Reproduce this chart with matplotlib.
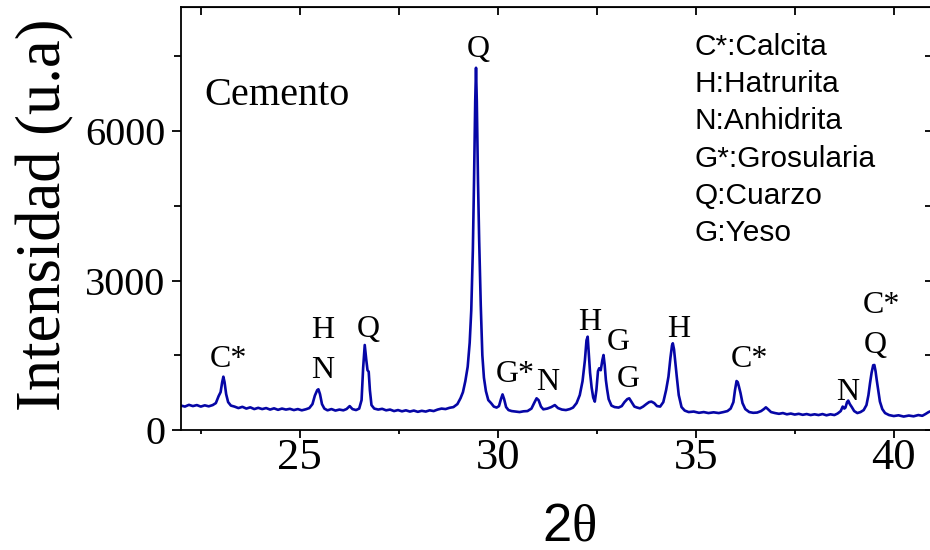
import matplotlib
matplotlib.use("Agg")
import matplotlib.pyplot as plt
from matplotlib.ticker import MultipleLocator

plt.rcParams['font.family'] = ['Liberation Serif', 'DejaVu Serif']
plt.rcParams['mathtext.fontset'] = 'custom'
plt.rcParams['mathtext.rm'] = 'Liberation Serif'
plt.rcParams['mathtext.sf'] = 'Liberation Sans'

# XRD pattern (2theta, counts)
two_theta = [
    22.00, 22.10, 22.20, 22.30, 22.40, 22.50, 22.60, 22.70, 22.80, 22.88,
    22.95, 23.00, 23.04, 23.07, 23.10, 23.14, 23.19, 23.26, 23.35, 23.45,
    23.55, 23.65, 23.75, 23.85, 23.95, 24.05, 24.15, 24.25, 24.35, 24.45,
    24.55, 24.65, 24.75, 24.85, 24.95, 25.05, 25.15, 25.24, 25.32, 25.38,
    25.44, 25.47, 25.51, 25.56, 25.62, 25.70, 25.80, 25.90, 26.00, 26.10,
    26.18, 26.26, 26.33, 26.42, 26.50, 26.56, 26.60, 26.64, 26.68, 26.71,
    26.74, 26.77, 26.81, 26.88, 26.98, 27.08, 27.18, 27.28, 27.38, 27.48,
    27.58, 27.68, 27.78, 27.88, 27.98, 28.08, 28.18, 28.28, 28.38, 28.48,
    28.58, 28.68, 28.78, 28.88, 28.98, 29.06, 29.12, 29.18, 29.24, 29.29,
    29.33, 29.37, 29.40, 29.43, 29.45, 29.47, 29.50, 29.53, 29.57, 29.61,
    29.65, 29.70, 29.76, 29.83, 29.90, 29.97, 30.03, 30.08, 30.12, 30.16,
    30.21, 30.27, 30.35, 30.45, 30.55, 30.65, 30.75, 30.85, 30.93, 30.98,
    31.03, 31.09, 31.15, 31.25, 31.35, 31.44, 31.52, 31.62, 31.72, 31.82,
    31.90, 31.99, 32.07, 32.14, 32.20, 32.24, 32.27, 32.30, 32.33, 32.37,
    32.41, 32.45, 32.49, 32.53, 32.56, 32.60, 32.64, 32.67, 32.70, 32.73,
    32.76, 32.80, 32.87, 32.95, 33.05, 33.13, 33.20, 33.27, 33.32, 33.38,
    33.45, 33.52, 33.59, 33.67, 33.75, 33.82, 33.88, 33.95, 34.02, 34.10,
    34.18, 34.25, 34.31, 34.36, 34.40, 34.42, 34.45, 34.49, 34.52, 34.57,
    34.64, 34.72, 34.82, 34.95, 35.08, 35.20, 35.32, 35.45, 35.58, 35.70,
    35.80, 35.88, 35.95, 35.99, 36.03, 36.06, 36.09, 36.13, 36.18, 36.25,
    36.35, 36.45, 36.55, 36.65, 36.72, 36.77, 36.82, 36.90, 37.00, 37.10,
    37.20, 37.30, 37.40, 37.50, 37.60, 37.70, 37.80, 37.90, 38.00, 38.10,
    38.20, 38.30, 38.40, 38.50, 38.58, 38.66, 38.71, 38.75, 38.78, 38.82,
    38.85, 38.89, 38.94, 39.00, 39.08, 39.16, 39.24, 39.31, 39.36, 39.40,
    39.44, 39.48, 39.51, 39.54, 39.57, 39.61, 39.65, 39.71, 39.78, 39.88,
    40.00, 40.12, 40.25, 40.38, 40.50, 40.62, 40.72, 40.80, 40.88, 40.94,
]
intensity = [
    490, 470, 505, 480, 500, 470, 495, 475, 500, 540,
    680, 760, 960, 1070, 960, 720, 560, 490, 470, 440,
    465, 430, 455, 420, 445, 420, 440, 410, 435, 405,
    430, 410, 425, 400, 420, 395, 415, 440, 520, 690,
    800, 817, 720, 520, 430, 395, 420, 390, 410, 395,
    420, 480, 420, 400, 430, 600, 1250, 1706, 1400, 1200,
    1170, 800, 500, 430, 410, 425, 395, 410, 380, 400,
    375, 395, 370, 390, 365, 385, 370, 395, 380, 410,
    430, 420, 445, 460, 520, 640, 760, 980, 1270, 1750,
    2400, 3600, 5000, 6600, 7270, 6600, 5000, 3800, 2500, 1500,
    1050, 780, 600, 540, 470, 450, 480, 620, 715, 620,
    460, 400, 380, 370, 360, 375, 380, 430, 560, 636,
    600, 470, 415, 430, 460, 500, 440, 410, 400, 420,
    450, 540, 700, 980, 1400, 1800, 1873, 1500, 1150, 850,
    650, 570, 800, 1180, 1238, 1200, 1400, 1505, 1300, 1000,
    820, 620, 490, 460, 450, 480, 560, 620, 636, 560,
    470, 450, 435, 470, 520, 560, 570, 540, 480, 470,
    560, 800, 1070, 1450, 1700, 1740, 1620, 1300, 1070, 700,
    460, 390, 360, 370, 345, 360, 340, 355, 340, 360,
    380, 430, 560, 800, 983, 960, 870, 740, 540, 420,
    360, 345, 350, 380, 420, 455, 420, 360, 340, 325,
    340, 315, 330, 310, 325, 305, 320, 300, 315, 300,
    320, 295, 315, 300, 330, 380, 470, 430, 450, 560,
    590, 520, 460, 380, 340, 360, 400, 500, 700, 940,
    1150, 1300, 1305, 1180, 1000, 780, 570, 420, 340, 300,
    280, 295, 270, 290, 275, 300, 285, 320, 360, 380,
]

# phase labels over the peaks
peak_text = ['C*', 'H', 'N', 'Q', 'Q', 'G*', 'N', 'H', 'G', 'G', 'H', 'C*', 'N', 'C*', 'Q']
peak_x = [23.19, 25.59, 25.57, 26.72, 29.50, 30.43, 31.27, 32.32, 33.04, 33.29, 34.58, 36.36, 38.83, 39.69, 39.53]
peak_y = [1264, 1840, 1038, 1866, 7486, 969, 803, 2007, 1605, 863, 1860, 1270, 602, 2342, 1545]

phases = ['C*:Calcita', 'H:Hatrurita', 'N:Anhidrita', 'G*:Grosularia', 'Q:Cuarzo', 'G:Yeso']

fig = plt.figure(figsize=(9.3, 5.5), dpi=100)
ax = fig.add_axes([181 / 930, 120 / 550, 750 / 930, 423 / 550])

ax.plot(two_theta, intensity, color='#0606a6', lw=1.9)

ax.set_xlim(22, 40.94)
ax.set_ylim(0, 8490)

ax.xaxis.set_major_locator(MultipleLocator(5))
ax.xaxis.set_minor_locator(MultipleLocator(2.5))
ax.yaxis.set_major_locator(MultipleLocator(3000))
ax.yaxis.set_minor_locator(MultipleLocator(1500))
ax.tick_params(axis='x', which='major', direction='out', length=6, width=1.3, labelsize=32, pad=0)
ax.tick_params(axis='x', which='minor', direction='out', length=3, width=1.3)
ax.tick_params(axis='y', which='major', direction='out', length=6.5, width=1.3, labelsize=29, pad=5)
ax.tick_params(axis='y', which='minor', direction='out', length=5, width=1.3)
for s in ax.spines.values():
    s.set_linewidth(1.3)

# mirrored ticks: top and right point inward
top = ax.secondary_xaxis('top')
top.xaxis.set_major_locator(MultipleLocator(5))
top.xaxis.set_minor_locator(MultipleLocator(2.5))
top.tick_params(which='both', direction='in', length=6, width=1.3, labeltop=False)
right = ax.secondary_yaxis('right')
right.yaxis.set_major_locator(MultipleLocator(3000))
right.yaxis.set_minor_locator(MultipleLocator(1500))
right.tick_params(which='both', direction='in', length=4, width=1.3, labelright=False)

ax.set_ylabel('Intensidad (u.a)', fontsize=45)
ax.yaxis.set_label_coords(-0.1427, 0.509)
ax.set_xlabel(r'$\mathsf{2}\mathrm{\theta}$', fontsize=38)
ax.xaxis.label.set_va('baseline')
ax.xaxis.set_label_coords(0.517, -0.262)

for t, x, y in zip(peak_text, peak_x, peak_y):
    ax.text(x, y, t, fontsize=23, ha='center', va='baseline')

ax.text(22.58, 6523, 'Cemento', fontsize=29, ha='left', va='baseline')

for i, p in enumerate(phases):
    ax.text(0.6853, 0.8865 - i * 0.0879, p, transform=ax.transAxes, fontsize=21.5,
            family=['Liberation Sans', 'DejaVu Sans'], ha='left', va='baseline')

fig.savefig('out.png', dpi=100)
